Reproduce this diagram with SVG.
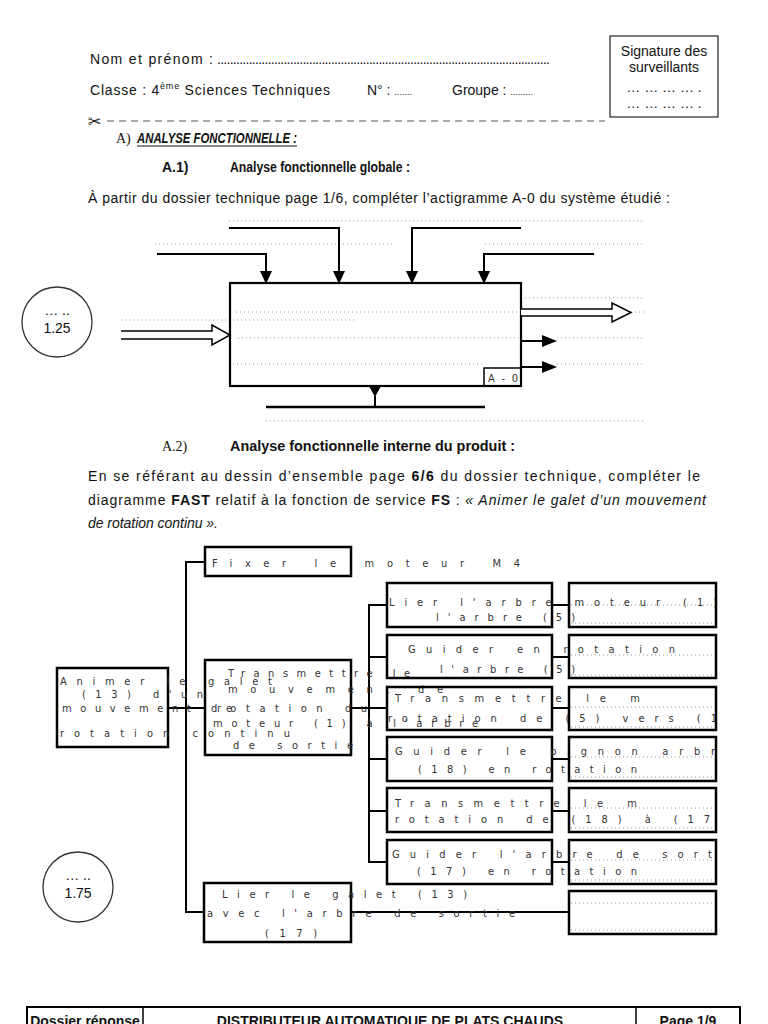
<svg xmlns="http://www.w3.org/2000/svg" width="768" height="1024" viewBox="0 0 768 1024">
<style>
.t{font-family:"Liberation Sans",Arial,sans-serif;font-size:14px;fill:#111}
.s{font-family:"Liberation Serif","Times New Roman",serif;font-size:14px;fill:#111}
.b{font-weight:bold}
.i{font-style:italic}
.f{font-family:"DejaVu Sans Condensed","DejaVu Sans",sans-serif;font-stretch:condensed;font-size:11px;fill:#333}
.dot{stroke:#9a9a9a;stroke-width:1;stroke-dasharray:1 3;fill:none}
.ln{stroke:#000;stroke-width:2;fill:none}
.bx{stroke:#000;stroke-width:2.5;fill:none}
.ar{fill:#000}
</style>

<!-- header -->
<g id="header">
<text class="t" x="90" y="64" font-size="15" textLength="123">Nom et prénom :</text>
<text class="t" x="217" y="64" font-size="9" textLength="333">.........................................................................................................</text>
<text class="t" x="90" y="95" font-size="15" textLength="240">Classe : 4<tspan font-size="9" dy="-6">ème</tspan><tspan dy="6"> Sciences Techniques</tspan></text>
<text class="t" x="367" y="95" font-size="15">N° : <tspan font-size="9">.......</tspan></text>
<text class="t" x="452" y="95" font-size="15">Groupe : <tspan font-size="9">.........</tspan></text>
</g>
<g id="signature">
<rect x="610" y="36" width="108" height="81" fill="none" stroke="#333" stroke-width="1.3"/>
<text class="t" x="664" y="56" font-size="12" text-anchor="middle">Signature des</text>
<text class="t" x="664" y="72" font-size="12" text-anchor="middle">surveillants</text>
<text class="t" x="664" y="92" font-size="9" text-anchor="middle">… … … … .</text>
<text class="t" x="664" y="108" font-size="9" text-anchor="middle">… … … … .</text>
</g>
<g id="cutline">
<text x="88" y="127" font-family="DejaVu Sans,sans-serif" font-size="16" fill="#222">✂</text>
<line x1="107" y1="121" x2="605" y2="121" stroke="#555" stroke-width="1" stroke-dasharray="7 5"/>
</g>
<g id="titles">
<text class="s" x="116" y="143">A)</text>
<text class="t b i" x="137" y="143" font-size="13" textLength="160" lengthAdjust="spacingAndGlyphs">ANALYSE FONCTIONNELLE :</text>
<line x1="137" y1="146" x2="297" y2="146" stroke="#111" stroke-width="1"/>
<text class="t b" x="162" y="172">A.1)</text>
<text class="t b" x="230" y="172" font-size="13" textLength="180" lengthAdjust="spacingAndGlyphs">Analyse fonctionnelle globale :</text>
<text class="t" x="88" y="203" textLength="582">À partir du dossier technique page 1/6, compléter l’actigramme A-0 du système étudié :</text>
</g>

<!-- actigram -->
<g id="actigram-dots">
<line class="dot" x1="229" y1="221" x2="645" y2="221"/>
<line class="dot" x1="155" y1="244" x2="395" y2="244"/>
<line class="dot" x1="485" y1="244" x2="645" y2="244"/>
<line class="dot" x1="521" y1="298" x2="645" y2="298"/>
<line class="dot" x1="236" y1="312" x2="521" y2="312"/>
<line class="dot" x1="631" y1="312" x2="645" y2="312"/>
<line class="dot" x1="121" y1="320" x2="357" y2="320"/>
<line class="dot" x1="238" y1="338" x2="521" y2="338"/>
<line class="dot" x1="557" y1="338" x2="645" y2="338"/>
<line class="dot" x1="233" y1="364" x2="484" y2="364"/>
<line class="dot" x1="557" y1="364" x2="645" y2="364"/>
<line class="dot" x1="266" y1="421" x2="645" y2="421"/>
</g>
<g id="A0">
<rect x="230" y="283" width="291" height="103" fill="none" stroke="#000" stroke-width="2.2"/>
<rect x="484" y="368" width="37" height="18" fill="none" stroke="#000" stroke-width="1.5"/>
<text class="f" x="488" y="382" textLength="30" fill="#555">A - 0</text>
</g>
<g id="actigram-arrows">
<path class="ln" d="M229 228H339V272"/><polygon class="ar" points="333,271 345,271 339,284"/>
<path class="ln" d="M521 228H412V272"/><polygon class="ar" points="406,271 418,271 412,284"/>
<path class="ln" d="M157 254H266V272"/><polygon class="ar" points="260,271 272,271 266,284"/>
<path class="ln" d="M594 254H484V272"/><polygon class="ar" points="478,271 490,271 484,284"/>
<path d="M121 331H212V325L230 335L212 345V339H121" fill="#fff" stroke="#000" stroke-width="1.5"/>
<path d="M521 309H612V303L631 312.5L612 322V316H521" fill="#fff" stroke="#000" stroke-width="1.5"/>
<line class="ln" x1="521" y1="341" x2="544" y2="341"/><polygon class="ar" points="542,335 557,341 542,347"/>
<line class="ln" x1="521" y1="367" x2="544" y2="367"/><polygon class="ar" points="542,361 557,367 542,373"/>
<polygon class="ar" points="369,386 381,386 375,397"/>
<line class="ln" x1="375" y1="396" x2="375" y2="407"/>
<line x1="266" y1="407" x2="485" y2="407" stroke="#000" stroke-width="2.5"/>
</g>
<g id="score1">
<circle cx="57" cy="322" r="35" fill="none" stroke="#333" stroke-width="1.3"/>
<text class="t" x="57" y="315" font-size="9" text-anchor="middle">… ..</text>
<text class="t" x="57" y="333" font-size="15" text-anchor="middle">1.25</text>
</g>

<!-- A.2 -->
<g id="section-a2">
<text class="s" x="162" y="451">A.2)</text>
<text class="t b" x="230" y="451" font-size="13" textLength="285" lengthAdjust="spacingAndGlyphs">Analyse fonctionnelle interne du produit :</text>
<text class="t" x="88" y="481" textLength="612">En se référant au dessin d’ensemble page <tspan class="b">6/6</tspan> du dossier technique, compléter le</text>
<text class="t" x="88" y="505" textLength="618">diagramme <tspan class="b">FAST</tspan> relatif à la fonction de service <tspan class="b">FS</tspan> : <tspan class="i">« Animer le galet d’un mouvement</tspan></text>
<text class="t i" x="88" y="528" textLength="130">de rotation continu ».</text>
</g>

<!-- FAST connectors -->
<g id="connectors">
<path class="ln" d="M205 562H186V912H204"/>
<path class="ln" d="M168 708H205"/>
<path class="ln" d="M351 708H387"/>
<path class="ln" d="M387 605H369V862H387"/>
<path class="ln" d="M369 657H387M369 759H387M369 811H387"/>
<path class="ln" d="M552 605H569M552 657H569M552 708H569M552 759H569M552 811H569M552 862H569"/>
<path class="ln" d="M351 912H569"/>
</g>

<g id="fs">
<rect class="bx" x="57" y="668" width="111" height="79"/>
<text class="f" x="60" y="685" textLength="212">Animer le galet</text>
<text class="f" x="82" y="698" textLength="121">(13) d'un</text>
<text class="f" x="62" y="712" textLength="170">mouvement de</text>
<text class="f" x="60" y="737" textLength="230">rotation continu</text>
</g>
<g id="ft1">
<rect class="bx" x="205" y="547" width="146" height="29"/>
<text class="f" x="212" y="567" textLength="308">Fixer le moteur M4</text>
</g>
<g id="ft2">
<rect class="bx" x="205" y="660" width="146" height="95"/>
<text class="f" x="228" y="677" textLength="182">Transmettre le</text>
<text class="f" x="228" y="693" textLength="215">mouvement de</text>
<text class="f" x="217" y="712" textLength="150">rotation du</text>
<text class="f" x="213" y="727" textLength="265">moteur (1) à l'arbre</text>
<text class="f" x="233" y="749" textLength="120">de sortie</text>
</g>
<g id="ft3">
<rect class="bx" x="204" y="883" width="147" height="59"/>
<text class="f" x="222" y="898" textLength="245">Lier le galet (13)</text>
<text class="f" x="207" y="917" textLength="308">avec l'arbre de sortie</text>
<text class="f" x="265" y="937" textLength="52">(17)</text>
</g>

<g id="sol-dots">
<line class="dot" x1="571" y1="605" x2="714" y2="605"/><line class="dot" x1="571" y1="623" x2="714" y2="623"/>
<line class="dot" x1="571" y1="655" x2="714" y2="655"/><line class="dot" x1="571" y1="675" x2="714" y2="675"/>
<line class="dot" x1="571" y1="707" x2="714" y2="707"/><line class="dot" x1="571" y1="727" x2="714" y2="727"/>
<line class="dot" x1="571" y1="757" x2="714" y2="757"/><line class="dot" x1="571" y1="777" x2="714" y2="777"/>
<line class="dot" x1="571" y1="808" x2="714" y2="808"/><line class="dot" x1="571" y1="828" x2="714" y2="828"/>
<line class="dot" x1="571" y1="860" x2="714" y2="860"/><line class="dot" x1="571" y1="880" x2="714" y2="880"/>
<line class="dot" x1="571" y1="903" x2="714" y2="903"/><line class="dot" x1="571" y1="930" x2="714" y2="930"/>
</g>

<g id="sf1">
<rect class="bx" x="387" y="583" width="165" height="44"/>
<text class="f" x="389" y="606" textLength="328">Lier l'arbre moteur (1)</text>
<text class="f" x="436" y="621" textLength="139">l'arbre (5)</text>
</g>
<g id="sf2">
<rect class="bx" x="387" y="635" width="165" height="43"/>
<text class="f" x="408" y="653" textLength="267">Guider en rotation</text>
<text class="f" x="440" y="673" textLength="135">l'arbre (5)</text>
</g>
<g id="sf3">
<rect class="bx" x="387" y="687" width="165" height="43"/>
<text class="f" x="395" y="702" textLength="245">Transmettre le m</text>
<text class="f" x="388" y="722" textLength="329">rotation de (5) vers (1</text>
</g>
<g id="sf4">
<rect class="bx" x="387" y="737" width="165" height="44"/>
<text class="f" x="395" y="755" textLength="320">Guider le pignon arbr</text>
<text class="f" x="418" y="773" textLength="219">(18) en rotation</text>
</g>
<g id="sf5">
<rect class="bx" x="387" y="788" width="165" height="44"/>
<text class="f" x="395" y="807" textLength="242">Transmettre le m</text>
<text class="f" x="395" y="823" textLength="315">rotation de (18) à (17</text>
</g>
<g id="sf6">
<rect class="bx" x="387" y="840" width="165" height="44"/>
<text class="f" x="392" y="858" textLength="320">Guider l'arbre de sort</text>
<text class="f" x="417" y="875" textLength="220">(17) en rotation</text>
</g>

<g id="s1"><rect class="bx" x="569" y="583" width="147" height="44"/></g>
<g id="s2"><rect class="bx" x="569" y="635" width="147" height="43"/></g>
<g id="s3"><rect class="bx" x="569" y="687" width="147" height="43"/></g>
<g id="s4"><rect class="bx" x="569" y="737" width="147" height="44"/></g>
<g id="s5"><rect class="bx" x="569" y="788" width="147" height="44"/></g>
<g id="s6"><rect class="bx" x="569" y="840" width="147" height="44"/></g>
<g id="s7"><rect class="bx" x="569" y="891" width="147" height="43"/></g>

<g id="score2">
<circle cx="78" cy="887" r="35" fill="none" stroke="#333" stroke-width="1.3"/>
<text class="t" x="78" y="880" font-size="9" text-anchor="middle">… ..</text>
<text class="t" x="78" y="898" font-size="15" text-anchor="middle">1.75</text>
</g>

<!-- footer -->
<g id="footer">
<rect x="27" y="1007" width="713" height="30" fill="none" stroke="#000" stroke-width="2"/>
<line x1="143" y1="1007" x2="143" y2="1024" stroke="#000" stroke-width="1.5"/>
<line x1="636" y1="1007" x2="636" y2="1024" stroke="#000" stroke-width="1.5"/>
<text class="t b" x="85" y="1026" font-size="13" text-anchor="middle">Dossier réponse</text>
<text class="t b" x="390" y="1026" font-size="13" text-anchor="middle">DISTRIBUTEUR AUTOMATIQUE DE PLATS CHAUDS</text>
<text class="t b" x="688" y="1026" font-size="13" text-anchor="middle">Page 1/9</text>
</g>
</svg>
